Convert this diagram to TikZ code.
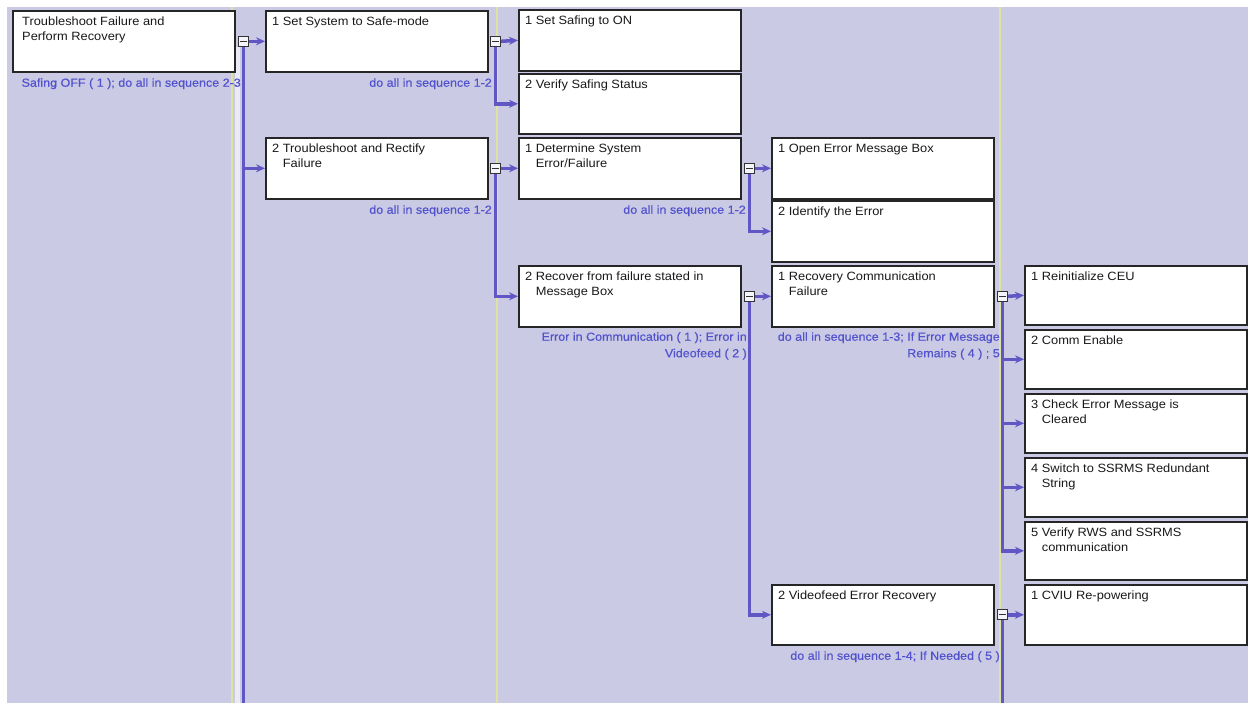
\documentclass[tikz,border=0pt]{standalone}
\usepackage{fontspec}
\setmainfont[FakeStretch=1.07]{Liberation Sans}
\newfontfamily\lblfont[FakeStretch=1.07,FakeBold=0.5]{Liberation Sans}
\usetikzlibrary{arrows.meta}
\definecolor{bgl}{RGB}{202,202,228}
\definecolor{pl}{RGB}{96,86,196}
\definecolor{lblc}{RGB}{82,82,205}
\definecolor{yel}{RGB}{222,228,160}
\newcommand\itm[2]{\begin{tabular}[t]{@{}l@{\hspace{3.5pt}}l@{}}#1&\begin{tabular}[t]{@{}l@{}}#2\end{tabular}\end{tabular}}
\newcommand\one[1]{\begin{tabular}[t]{@{}l@{}}#1\end{tabular}}
\newcommand\bx[6]{%
  \node[boxn, minimum width=#4pt, minimum height=#5pt, anchor=north west] (#1) at (#2,#3) {};
  \node[txt] (#1t) at ([xshift=7pt,yshift=-5pt]#1.north west) {#6};}
\tikzset{
  boxn/.style={draw=black!85, line width=1.6pt, fill=white, inner sep=0},
  txt/.style={anchor=north west, inner sep=0, font=\fontsize{12}{15}\selectfont, text=black!90},
  lbl/.style={anchor=north east, inner sep=0, font=\lblfont\fontsize{11.7}{16.5}\selectfont, text=lblc},
  cbox/.style={draw=black!80, line width=1.1pt, fill=white!80!bgl, minimum width=10pt, minimum height=10pt, inner sep=0,
    path picture={\draw[black!80, line width=1.1pt] ([xshift=1.5pt]path picture bounding box.west) -- ([xshift=-1.5pt]path picture bounding box.east);}},
  vl/.style={draw=pl, line width=3.5pt},
  arr/.style={draw=pl, line width=3.5pt, -{Stealth[length=9pt,width=8pt]}},
}
\begin{document}
\begin{tikzpicture}[x=1pt, y=-1pt]
\useasboundingbox (0,0) rectangle (1248,703);
\fill[white] (0,0) rectangle (1248,703);
\fill[bgl] (7,7) rectangle (1248,703);
% column guide lines
\draw[yel, line width=1.6pt] (232,7) -- (232,703);
\draw[yel, line width=1.6pt] (497,7) -- (497,703);
\draw[yel, line width=1.6pt] (1000,7) -- (1000,703);
\draw[white!60!bgl, line width=5pt] (237,47) -- (237,703);

% boxes
\node[boxn, minimum width=222pt, minimum height=61pt, anchor=north west] (root) at (12,10) {};
\node[txt] (roott) at ([xshift=10pt,yshift=-5pt]root.north west) {\one{Troubleshoot Failure and\\Perform Recovery}};
\bx{s1}{265}{10}{222}{61}{\itm{1}{Set System to Safe-mode}}
\bx{s2}{265}{137}{222}{61}{\itm{2}{Troubleshoot and Rectify\\Failure}}
\bx{a1}{518}{9}{222}{61}{\itm{1}{Set Safing to ON}}
\bx{a2}{518}{73}{222}{60}{\itm{2}{Verify Safing Status}}
\bx{a3}{518}{137}{222}{61}{\itm{1}{Determine System\\Error/Failure}}
\bx{a4}{518}{265}{222}{61}{\itm{2}{Recover from failure stated in\\Message Box}}
\bx{b1}{771}{137}{222}{61}{\itm{1}{Open Error Message Box}}
\bx{b2}{771}{200}{222}{61}{\itm{2}{Identify the Error}}
\bx{b3}{771}{265}{222}{61}{\itm{1}{Recovery Communication\\Failure}}
\bx{b4}{771}{584}{222}{60}{\itm{2}{Videofeed Error Recovery}}
\bx{c1}{1024}{265}{222}{59}{\itm{1}{Reinitialize CEU}}
\bx{c2}{1024}{329}{222}{59}{\itm{2}{Comm Enable}}
\bx{c3}{1024}{393}{222}{59}{\itm{3}{Check Error Message is\\Cleared}}
\bx{c4}{1024}{457}{222}{59}{\itm{4}{Switch to SSRMS Redundant\\String}}
\bx{c5}{1024}{521}{222}{58}{\itm{5}{Verify RWS and SSRMS\\communication}}
\bx{c6}{1024}{584}{222}{60}{\itm{1}{CVIU Re-powering}}

% collapse boxes
\node[cbox] (k0) at ([xshift=8pt]root.east) {};
\node[cbox] (k1) at ([xshift=7pt]s1.east) {};
\node[cbox] (k2) at ([xshift=7pt]s2.east) {};
\node[cbox] (k3) at ([xshift=8pt]a3.east) {};
\node[cbox] (k4) at ([xshift=8pt]a4.east) {};
\node[cbox] (k5) at ([xshift=8pt]b3.east) {};
\node[cbox] (k6) at ([xshift=8pt]b4.east) {};
\coordinate (e0) at (242,703);
\coordinate (e6) at (1001,703);

% connectors
\draw[vl] (k0.south) -- (k0.south |- e0);
\draw[arr] (k0.east) -- (s1.west);
\draw[arr] (k0.center |- s2.west) -- (s2.west);

\draw[arr] (k1.east) -- (a1.west);
\draw[arr] (k1.south) |- (a2.west);

\draw[arr] (k2.east) -- (a3.west);
\draw[arr] (k2.south) |- (a4.west);

\draw[arr] (k3.east) -- (b1.west);
\draw[arr] (k3.south) |- (b2.west);

\draw[arr] (k4.east) -- (b3.west);
\draw[arr] (k4.south) |- (b4.west);

\draw[arr] (k5.east) -- (c1.west);
\draw[arr] (k5.center |- c2.west) -- (c2.west);
\draw[arr] (k5.center |- c3.west) -- (c3.west);
\draw[arr] (k5.center |- c4.west) -- (c4.west);
\draw[arr] (k5.south) |- (c5.west);

\draw[vl] (k6.south) -- (k6.south |- e6);
\draw[arr] (k6.east) -- (c6.west);

% redraw collapse boxes on top
\foreach \k in {k0,k1,k2,k3,k4,k5,k6} {\node[cbox] at (\k) {};}

% labels
\node[lbl] (l0) at (241,75) {\begin{tabular}[t]{@{}r@{}}Safing OFF ( 1 ); do all in sequence 2-3\end{tabular}};
\node[lbl] (l1) at (492,75) {\begin{tabular}[t]{@{}r@{}}do all in sequence 1-2\end{tabular}};
\node[lbl] (l2) at (492,202) {\begin{tabular}[t]{@{}r@{}}do all in sequence 1-2\end{tabular}};
\node[lbl] (l3) at (746,202) {\begin{tabular}[t]{@{}r@{}}do all in sequence 1-2\end{tabular}};
\node[lbl] (l4) at (747,329) {\begin{tabular}[t]{@{}r@{}}Error in Communication ( 1 ); Error in\\Videofeed ( 2 )\end{tabular}};
\node[lbl] (l5) at (1000,329) {\begin{tabular}[t]{@{}r@{}}do all in sequence 1-3; If Error Message\\Remains ( 4 ) ; 5\end{tabular}};
\node[lbl] (l6) at (1000,648) {\begin{tabular}[t]{@{}r@{}}do all in sequence 1-4; If Needed ( 5 )\end{tabular}};
\end{tikzpicture}
\end{document}
